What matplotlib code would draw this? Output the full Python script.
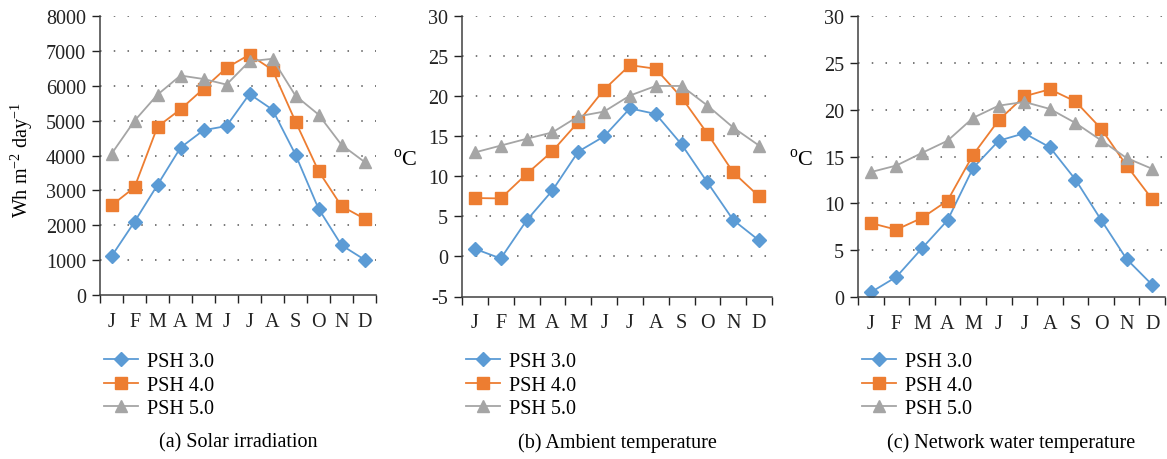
import numpy as np
import matplotlib.pyplot as plt
from matplotlib.ticker import FixedLocator, NullFormatter

plt.rcParams["font.family"] = ["Liberation Serif", "DejaVu Serif"]
plt.rcParams["mathtext.fontset"] = "custom"
plt.rcParams["mathtext.rm"] = "Liberation Serif"

months = ["J", "F", "M", "A", "M", "J", "J", "A", "S", "O", "N", "D"]
series = ["PSH 3.0", "PSH 4.0", "PSH 5.0"]

solar_30 = [1110, 2100, 3160, 4230, 4730, 4850, 5770, 5320, 4030, 2480, 1430, 1015]
solar_40 = [2570, 3090, 4830, 5330, 5920, 6520, 6900, 6460, 4980, 3560, 2550, 2190]
solar_50 = [4050, 5000, 5750, 6300, 6200, 6040, 6710, 6780, 5720, 5180, 4310, 3820]

amb_30 = [0.95, -0.25, 4.5, 8.25, 13.1, 15.0, 18.5, 17.8, 14.0, 9.25, 4.55, 2.0]
amb_40 = [7.3, 7.25, 10.3, 13.15, 16.8, 20.85, 23.9, 23.45, 19.85, 15.35, 10.5, 7.5]
amb_50 = [13.0, 13.85, 14.7, 15.5, 17.5, 18.1, 20.1, 21.3, 21.3, 18.85, 16.1, 13.85]

water_30 = [0.5, 2.15, 5.2, 8.2, 13.8, 16.7, 17.5, 16.0, 12.55, 8.25, 4.05, 1.3]
water_40 = [7.9, 7.2, 8.45, 10.3, 15.2, 18.9, 21.45, 22.2, 20.9, 18.0, 14.05, 10.45]
water_50 = [13.35, 14.05, 15.4, 16.7, 19.15, 20.45, 20.85, 20.1, 18.6, 16.75, 14.85, 13.7]

colors = ["#5B9BD5", "#ED7D31", "#A5A5A5"]
markers = ["D", "s", "^"]
msizes = [7, 9, 9]

W, H = 1167, 460
fig = plt.figure(figsize=(W / 100, H / 100), dpi=100)

panels = [
    dict(px=(100, 376, 17.3, 296),
         data=[solar_30, solar_40, solar_50], ylim=(0, 8000), step=1000,
         caption="(a) Solar irradiation"),
    dict(px=(462, 772, 17.3, 297.5),
         data=[amb_30, amb_40, amb_50], ylim=(-5, 30), step=5,
         caption="(b) Ambient temperature"),
    dict(px=(858, 1165, 17.3, 298),
         data=[water_30, water_40, water_50], ylim=(0, 30), step=5,
         caption="(c) Network water temperature"),
]

serif = {"family": ["Liberation Serif", "DejaVu Serif"], "size": 14.5}

x = np.arange(12)
for p in panels:
    l, r, t, b = p["px"]
    ax = fig.add_axes([l / W, 1 - b / H, (r - l) / W, (b - t) / H])
    for vals, name, c, m, ms in zip(p["data"], series, colors, markers, msizes):
        ax.plot(x, vals, color=c, marker=m, markersize=ms, linewidth=1.3,
                label=name, markeredgecolor=c)
    lo, hi = p["ylim"]
    ax.set_ylim(lo, hi)
    ax.set_xlim(-0.5, 11.5)
    yt = np.arange(lo, hi + p["step"] / 2, p["step"])
    ax.set_yticks(yt)
    ax.set_yticklabels([str(int(v)) for v in yt])
    for v in yt[1:]:
        ax.axhline(v, color="#555555", linestyle=(0, (1, 8)), linewidth=1.1, zorder=0)
    ax.xaxis.set_major_locator(FixedLocator(np.arange(-0.5, 12, 1)))
    ax.xaxis.set_major_formatter(NullFormatter())
    ax.set_xticks(x, minor=True)
    ax.set_xticklabels(months, minor=True)
    ax.tick_params(axis="x", which="major", length=6, width=1, color="#404040")
    ax.tick_params(axis="x", which="minor", length=0, pad=12, labelsize=14.5)
    ax.tick_params(axis="y", length=6, width=1, color="#404040", labelsize=14.5, pad=4)
    for s in ["top", "right"]:
        ax.spines[s].set_visible(False)
    for s in ["left", "bottom"]:
        ax.spines[s].set_color("#404040")
        ax.spines[s].set_linewidth(1.1)
    ax.tick_params(colors="#222222", which="both")
    ax.legend(loc="upper left", bbox_to_anchor=(l / W, 1 - 349 / H),
              bbox_transform=fig.transFigure, frameon=False, prop=serif,
              handlelength=1.7, handletextpad=0.45, labelspacing=0.22,
              borderpad=0.2, borderaxespad=0)
    fig.text((l + r) / 2 / W, 1 - 443 / H, p["caption"], ha="center",
             va="center", fontsize=14.5)

fig.text(22 / W, 1 - 160 / H, r"Wh m$^{-2}$ day$^{-1}$", rotation=90,
         ha="center", va="center", fontsize=14.5)
fig.text(405 / W, 1 - 160 / H, r"$^{\mathrm{o}}$C", ha="center", va="center", fontsize=16)
fig.text(801 / W, 1 - 160 / H, r"$^{\mathrm{o}}$C", ha="center", va="center", fontsize=16)

fig.savefig("out.png", dpi=100)
